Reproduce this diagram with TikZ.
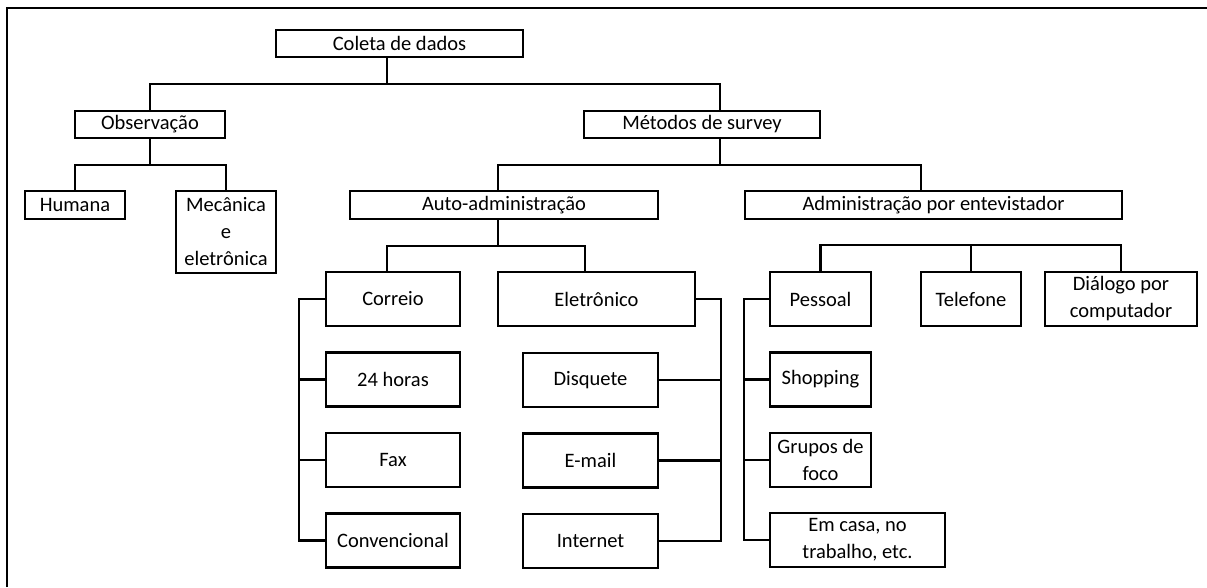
\documentclass[tikz,border=0pt]{standalone}
\usepackage{fontspec}
\setmainfont{Carlito}
\begin{document}
\begin{tikzpicture}[x=1pt, y=-1pt, line width=2.2pt]
    \tikzstyle{box} = [rectangle, draw, align=center, inner sep=2pt, minimum height=27pt, font=\fontsize{20.5}{27}\selectfont]
    \tikzstyle{tall} = [box, minimum height=54pt]

    \useasboundingbox (0,0) rectangle (1207,587);
    % frame
    \draw (7,587) -- (7,8) -- (1207,8);

    % Top
    \node [box, minimum width=247pt] (coleta) at (399.5,43.5) {Coleta de dados};

    % Level 1
    \node [box, minimum width=150pt] (obs) at (150,124.5) {Observação};
    \node [box, minimum width=236pt] (metodos) at (702,124.5) {Métodos de survey};

    % Level 2
    \node [box, minimum width=100pt, minimum height=28pt] (humana) at (75,205) {Humana};
    \node [box, minimum width=100pt, minimum height=82pt] (mecanica) at (226,232) {Mecânica\\e\\eletrônica};
    \node [box, minimum width=308pt, minimum height=28pt] (auto) at (504,205) {Auto-administração};
    \node [box, minimum width=377pt, minimum height=28pt] (entrev) at (933.5,205) {Administração por entevistador};

    % Level 3
    \node [tall, minimum width=134pt] (correio) at (393,299) {Correio};
    \node [tall, minimum width=197pt] (eletronico) at (596.5,299) {Eletrônico};
    \node [tall, minimum width=101pt] (pessoal) at (820.5,299) {Pessoal};
    \node [tall, minimum width=100pt] (telefone) at (971,299) {Telefone};
    \node [tall, minimum width=152pt] (dialogo) at (1121,299) {Diálogo por\\computador};

    % Mail column
    \node [tall, minimum width=134pt, below of=correio, node distance=80.5pt] (horas) {24 horas};
    \node [tall, minimum width=134pt, below of=horas, node distance=80.5pt] (fax) {Fax};
    \node [tall, minimum width=134pt, below of=fax, node distance=80.5pt] (conv) {Convencional};

    % Electronic column
    \node [tall, minimum width=135pt] (disquete) at (590.5,380) {Disquete};
    \node [tall, minimum width=135pt, below of=disquete, node distance=80.5pt] (email) {E-mail};
    \node [tall, minimum width=135pt, below of=email, node distance=80.5pt] (internet) {Internet};

    % Personal column
    \node [tall, minimum width=101pt, below of=pessoal, node distance=80.5pt] (shopping) {Shopping};
    \node [tall, minimum width=101pt, below of=shopping, node distance=80.5pt] (grupos) {Grupos de\\foco};
    \node [tall, minimum width=175pt] (emcasa) at (857.5,540) {Em casa, no\\trabalho, etc.};

    % Tree links
    \draw ([xshift=-12.5pt]coleta.south) -- ++(0,26) coordinate (c0);
    \draw (obs.north) |- (c0) -| ([xshift=18pt]metodos.north);

    \draw (obs.south) -- ++(0,26) coordinate (c1);
    \draw (humana.north) |- (c1) -| (mecanica.north);

    \draw ([xshift=18pt]metodos.south) -- ++(0,26) coordinate (c2);
    \draw ([xshift=-6pt]auto.north) |- (c2) -| ([xshift=-12.5pt]entrev.north);

    \draw ([xshift=-6pt]auto.south) -- ++(0,26) coordinate (c3);
    \draw ([xshift=-6pt]correio.north) |- (c3) -| ([xshift=-11.5pt]eletronico.north);

    \coordinate (c4) at (971,245);
    \draw (pessoal.north) |- (c4) -| (dialogo.north);
    \draw (telefone.north) -- (c4);

    % Column links
    \draw (correio.west) -- ++(-26,0) coordinate (l1) -- (l1 |- conv.west) -- (conv.west);
    \foreach \n in {horas, fax} \draw (\n.west) -- (\n.west -| l1);

    \draw (eletronico.east) -- ++(25,0) coordinate (r1) -- (r1 |- internet.east) -- (internet.east);
    \foreach \n in {disquete, email} \draw (\n.east) -- (\n.east -| r1);

    \draw (pessoal.west) -- ++(-25,0) coordinate (l2) -- (l2 |- emcasa.west) -- (emcasa.west);
    \foreach \n in {shopping, grupos} \draw (\n.west) -- (\n.west -| l2);
\end{tikzpicture}
\end{document}
